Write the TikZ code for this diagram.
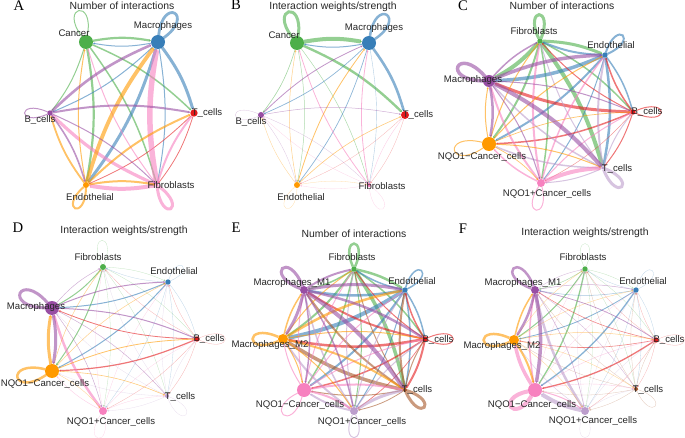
\documentclass[tikz,border=0pt]{standalone}
\usepackage{fontspec}
\setmainfont{Liberation Sans}
\newfontfamily\panelfont{Liberation Serif}
\definecolor{netgreen}{RGB}{77, 175, 74}
\definecolor{netblue}{RGB}{55, 126, 184}
\definecolor{netred}{RGB}{228, 26, 28}
\definecolor{netpink}{RGB}{247, 129, 191}
\definecolor{netorange}{RGB}{255, 153, 0}
\definecolor{netpurple}{RGB}{152, 78, 163}
\definecolor{netlilac}{RGB}{188, 157, 204}
\definecolor{netbrown}{RGB}{166, 86, 40}
\usetikzlibrary{arrows.meta}
\tikzset{
  dot/.style={circle, inner sep=0pt, outer sep=0pt},
  lab/.style={inner sep=0pt, font=\fontsize{7.2}{9}\selectfont, text=black!85},
  ttl/.style={inner sep=0pt, font=\fontsize{7.8}{9}\selectfont, text=black!85},
  panel/.style={inner sep=0pt, font=\panelfont\fontsize{11}{12}\selectfont},
  lnk/.style={bend left=10, -{Stealth[length=1.6pt,width=1.6pt]}}
}
% thin links are paler
\newcommand{\linksfrom}[3]{\foreach \dest/\lw in {#3}{\pgfmathsetmacro{\lnkop}{min(0.6,0.15+0.6*\lw)}
  \draw[lnk, opacity=\lnkop, draw=#1, line width=\lw*0.75pt] (#2) to (\dest);}}
% colour, node, direction, length and width of a self loop
\newcommand{\selfloop}[5]{{\pgfmathsetmacro{\outang}{#3+24}\pgfmathsetmacro{\inang}{#3-24}\pgfmathsetmacro{\loopdist}{#4*1.4*0.75}\pgfmathsetmacro{\lnkop}{min(0.6,0.15+0.6*#5)}
  \draw[opacity=\lnkop, draw=#1, line width=#5*0.75pt] (#2) to[out=\outang, in=\inang, distance=\loopdist pt] (#2);}}

\begin{document}
\begin{tikzpicture}[x=0.75pt, y=-0.75pt]
  \useasboundingbox (0,0) rectangle (685,438);

  % Panel A
  \node[panel] (aTag) at (19,6) {A};
  \node[ttl] (aTitle) at (122,6) {Number of interactions};
  \node[dot, fill=netgreen, minimum size=10.5pt] (aCan) at (86,42) {};
  \node[dot, fill=netblue, minimum size=10.5pt] (aMac) at (158,42) {};
  \node[dot, fill=netred, minimum size=5.5pt] (aT) at (194,113) {};
  \node[dot, fill=netpink, minimum size=2.5pt] (aFib) at (157,185) {};
  \node[dot, fill=netorange, minimum size=4.5pt] (aEnd) at (86,185) {};
  \node[dot, fill=netpurple, minimum size=4pt] (aB) at (50,113) {};
  \linksfrom{netgreen}{aCan}{aMac/2.2, aT/1.5, aFib/1.5, aEnd/2.2, aB/1}
  \linksfrom{netblue}{aMac}{aCan/1, aT/3, aFib/1, aEnd/3, aB/1}
  \linksfrom{netred}{aT}{aEnd/0.8, aFib/0.8}
  \linksfrom{netpink}{aFib}{aMac/5.5, aT/2, aCan/1, aB/3.2, aEnd/4}
  \linksfrom{netorange}{aEnd}{aMac/3.8, aCan/1, aT/2, aB/1.8, aFib/2}
  \linksfrom{netpurple}{aB}{aMac/2.6, aT/2, aFib/1, aEnd/1.6}
  \selfloop{netgreen}{aCan}{103}{27}{1}
  \selfloop{netblue}{aMac}{60}{28}{2.8}
  \selfloop{netpurple}{aB}{180}{24}{1}
  \selfloop{netorange}{aEnd}{245}{24}{2}
  \selfloop{netpink}{aFib}{300}{27}{3}
  \node[lab] (aCanL) at (74,33) {Cancer};
  \node[lab] (aMacL) at (163,26) {Macrophages};
  \node[lab] (aTL) at (207,113) {T\_cells};
  \node[lab] (aBL) at (40,120) {B\_cells};
  \node[lab] (aEndL) at (90,197) {Endothelial};
  \node[lab] (aFibL) at (171,185) {Fibroblasts};

  % Panel B
  \node[panel] (bTag) at (236,5) {B};
  \node[ttl] (bTitle) at (333,7) {Interaction weights/strength};
  \node[dot, fill=netgreen, minimum size=10.5pt] (bCan) at (297,43) {};
  \node[dot, fill=netblue, minimum size=10.5pt] (bMac) at (369,43) {};
  \node[dot, fill=netred, minimum size=6pt] (bT) at (405,115) {};
  \node[dot, fill=netpink, minimum size=3pt] (bFib) at (369,185) {};
  \node[dot, fill=netorange, minimum size=4.5pt] (bEnd) at (297,185) {};
  \node[dot, fill=netpurple, minimum size=4.5pt] (bB) at (261,115) {};
  \linksfrom{netgreen}{bCan}{bMac/4, bT/2.4, bFib/0.5, bEnd/0.5, bB/0.6}
  \linksfrom{netblue}{bMac}{bCan/1, bT/2.6, bFib/0.4, bEnd/0.7, bB/0.7}
  \linksfrom{netred}{bT}{bEnd/0.3, bFib/0.3}
  \linksfrom{netpink}{bFib}{bMac/0.8, bT/0.4, bCan/0.8, bB/0.3, bEnd/0.3}
  \linksfrom{netorange}{bEnd}{bMac/0.8, bCan/0.5, bT/0.6, bB/0.4, bFib/0.3}
  \linksfrom{netpurple}{bB}{bMac/0.8, bT/0.5, bFib/0.3, bEnd/0.3}
  \selfloop{netgreen}{bCan}{105}{27}{3}
  \selfloop{netblue}{bMac}{58}{28}{2.5}
  \selfloop{netpurple}{bB}{180}{24}{0.3}
  \selfloop{netorange}{bEnd}{245}{24}{0.3}
  \selfloop{netpink}{bFib}{300}{27}{0.3}
  \node[lab] (bCanL) at (284,35) {Cancer};
  \node[lab] (bMacL) at (374,28) {Macrophages};
  \node[lab] (bTL) at (418,115) {T\_cells};
  \node[lab] (bBL) at (251,122) {B\_cells};
  \node[lab] (bEndL) at (301,197) {Endothelial};
  \node[lab] (bFibL) at (382,186) {Fibroblasts};

  % Panel C
  \node[panel] (cTag) at (463,6) {C};
  \node[ttl] (cTitle) at (562,6) {Number of interactions};
  \node[dot, fill=netgreen, minimum size=4pt] (cFib) at (540,41) {};
  \node[dot, fill=netblue, minimum size=4pt] (cEnd) at (605,55) {};
  \node[dot, fill=netred, minimum size=4pt] (cB) at (633,112) {};
  \node[dot, fill=netlilac, minimum size=2.5pt] (cT) at (603,168) {};
  \node[dot, fill=netpink, minimum size=6pt] (cPos) at (541,183) {};
  \node[dot, fill=netorange, minimum size=10.5pt] (cNeg) at (489,144) {};
  \node[dot, fill=netpurple, minimum size=9pt] (cMac) at (489,81) {};
  \linksfrom{netgreen}{cFib}{cEnd/3, cB/1.5, cT/4, cPos/1.5, cNeg/2, cMac/4}
  \linksfrom{netblue}{cEnd}{cFib/2, cB/1.5, cT/2.5, cPos/1, cNeg/2, cMac/3.5}
  \linksfrom{netred}{cB}{cFib/1, cEnd/1.5, cT/1, cPos/0.5, cNeg/1.5, cMac/3}
  \linksfrom{netlilac}{cT}{cFib/1, cEnd/2, cB/1, cPos/1, cNeg/1.5, cMac/1.5}
  \linksfrom{netpink}{cPos}{cFib/2, cEnd/1.5, cB/1, cT/4, cNeg/1.5, cMac/2}
  \linksfrom{netorange}{cNeg}{cFib/1, cEnd/1, cB/0.7, cT/1, cPos/0.7, cMac/1}
  \linksfrom{netpurple}{cMac}{cFib/1.5, cEnd/3.5, cB/1, cT/4, cPos/1, cNeg/2.5}
  \selfloop{netgreen}{cFib}{92}{25}{3}
  \selfloop{netblue}{cEnd}{48}{25}{2}
  \selfloop{netred}{cB}{0}{27}{1}
  \selfloop{netlilac}{cT}{-45}{26}{3}
  \selfloop{netpink}{cPos}{260}{25}{1}
  \selfloop{netorange}{cNeg}{190}{30}{1}
  \selfloop{netpurple}{cMac}{155}{30}{3.5}
  \node[lab] (cFibL) at (534,31) {Fibroblasts};
  \node[lab] (cEndL) at (611,45) {Endothelial};
  \node[lab] (cMacL) at (473,80) {Macrophages};
  \node[lab] (cBL) at (647,112) {B\_cells};
  \node[lab] (cTL) at (617,169) {T\_cells};
  \node[lab] (cNegL) at (482,157) {NQO1−Cancer\_cells};
  \node[lab] (cPosL) at (547,194) {NQO1+Cancer\_cells};

  % Panel D
  \node[panel] (dTag) at (18,228) {D};
  \node[ttl] (dTitle) at (124,231) {Interaction weights/strength};
  \node[dot, fill=netgreen, minimum size=4.5pt] (dFib) at (103,267) {};
  \node[dot, fill=netblue, minimum size=4pt] (dEnd) at (168,282) {};
  \node[dot, fill=netred, minimum size=4pt] (dB) at (197,339) {};
  \node[dot, fill=netlilac, minimum size=3pt] (dT) at (167,396) {};
  \node[dot, fill=netpink, minimum size=6pt] (dPos) at (103,411) {};
  \node[dot, fill=netorange, minimum size=10.5pt] (dNeg) at (52,371) {};
  \node[dot, fill=netpurple, minimum size=10.5pt] (dMac) at (52,308) {};
  \linksfrom{netgreen}{dFib}{dEnd/0.3, dB/0.3, dT/0.3, dPos/0.3, dNeg/1, dMac/1}
  \linksfrom{netblue}{dEnd}{dFib/0.3, dB/0.3, dT/0.3, dPos/0.3, dNeg/1, dMac/1}
  \linksfrom{netred}{dB}{dFib/0.3, dEnd/0.3, dT/0.3, dPos/0.3, dNeg/1.2, dMac/0.8}
  \linksfrom{netlilac}{dT}{dFib/0.3, dEnd/0.3, dB/0.3, dPos/0.3, dNeg/0.3, dMac/0.3}
  \linksfrom{netpink}{dPos}{dFib/0.3, dEnd/0.3, dB/0.3, dT/0.3, dNeg/0.4, dMac/2.5}
  \linksfrom{netorange}{dNeg}{dFib/0.5, dEnd/0.5, dB/0.8, dT/0.6, dPos/0.4, dMac/3}
  \linksfrom{netpurple}{dMac}{dFib/0.5, dEnd/1, dB/1, dT/0.5, dPos/0.5, dNeg/3}
  \selfloop{netgreen}{dFib}{92}{25}{0.3}
  \selfloop{netblue}{dEnd}{48}{20}{0.3}
  \selfloop{netred}{dB}{0}{27}{0.3}
  \selfloop{netlilac}{dT}{-45}{26}{0.3}
  \selfloop{netpink}{dPos}{260}{25}{0.3}
  \selfloop{netorange}{dNeg}{190}{30}{2.5}
  \selfloop{netpurple}{dMac}{155}{30}{3}
  \node[lab] (dFibL) at (98,257) {Fibroblasts};
  \node[lab] (dEndL) at (174,271) {Endothelial};
  \node[lab] (dMacL) at (36,307) {Macrophages};
  \node[lab] (dBL) at (209,339) {B\_cells};
  \node[lab] (dTL) at (180,397) {T\_cells};
  \node[lab] (dNegL) at (45,384) {NQO1−Cancer\_cells};
  \node[lab] (dPosL) at (111,422) {NQO1+Cancer\_cells};

  % Panel E
  \node[panel] (eTag) at (236,228) {E};
  \node[ttl] (eTitle) at (354,234) {Number of interactions};
  \node[dot, fill=netgreen, minimum size=4pt] (eFib) at (354,269) {};
  \node[dot, fill=netblue, minimum size=4pt] (eEnd) at (405,290) {};
  \node[dot, fill=netred, minimum size=4pt] (eB) at (425,339) {};
  \node[dot, fill=netbrown, minimum size=3pt] (eT) at (405,390) {};
  \node[dot, fill=netlilac, minimum size=6pt] (ePos) at (354,411) {};
  \node[dot, fill=netpink, minimum size=10.5pt] (eNeg) at (304,390) {};
  \node[dot, fill=netorange, minimum size=7.5pt] (eTwo) at (283,339) {};
  \node[dot, fill=netpurple, minimum size=6pt] (eOne) at (304,290) {};
  \linksfrom{netgreen}{eFib}{eEnd/2.5, eB/1.5, eT/3.5, ePos/1, eNeg/1.5, eTwo/2, eOne/1.5}
  \linksfrom{netblue}{eEnd}{eFib/1.5, eB/1.5, eT/1.5, ePos/1, eNeg/2, eTwo/4, eOne/2.5}
  \linksfrom{netred}{eB}{eFib/1, eEnd/1.5, eT/2, ePos/0.7, eNeg/1.5, eTwo/2.5, eOne/2}
  \linksfrom{netbrown}{eT}{eFib/1, eEnd/2, eB/1, ePos/0.8, eNeg/1, eTwo/3.5, eOne/2}
  \linksfrom{netlilac}{ePos}{eFib/1, eEnd/1, eB/1, eT/3, eNeg/2, eTwo/2, eOne/1.5}
  \linksfrom{netpink}{eNeg}{eFib/1, eEnd/1, eB/1, eT/2, ePos/2, eTwo/1, eOne/1}
  \linksfrom{netorange}{eTwo}{eFib/1, eEnd/2.5, eB/1, eT/2, ePos/1, eNeg/1, eOne/1.5}
  \linksfrom{netpurple}{eOne}{eFib/2, eEnd/3, eB/2.5, eT/4, ePos/1.5, eNeg/1.5, eTwo/3}
  \selfloop{netgreen}{eFib}{90}{24}{2.5}
  \selfloop{netblue}{eEnd}{50}{24}{1.5}
  \selfloop{netred}{eB}{0}{27}{1}
  \selfloop{netbrown}{eT}{-42}{25}{3}
  \selfloop{netlilac}{ePos}{270}{24}{1}
  \selfloop{netpink}{eNeg}{230}{27}{1}
  \selfloop{netorange}{eTwo}{180}{27}{2.5}
  \selfloop{netpurple}{eOne}{135}{28}{3}
  \node[lab] (eFibL) at (352,257) {Fibroblasts};
  \node[lab] (eEndL) at (412,281) {Endothelial};
  \node[lab] (eOneL) at (292,283) {Macrophages\_M1};
  \node[lab] (eBL) at (438,340) {B\_cells};
  \node[lab] (eTwoL) at (270,345) {Macrophages\_M2};
  \node[lab] (eTL) at (417,390) {T\_cells};
  \node[lab] (eNegL) at (300,405) {NQO1−Cancer\_cells};
  \node[lab] (ePosL) at (362,422) {NQO1+Cancer\_cells};

  % Panel F
  \node[panel] (fTag) at (463,229) {F};
  \node[ttl] (fTitle) at (585,233) {Interaction weights/strength};
  \node[dot, fill=netgreen, minimum size=4pt] (fFib) at (585,269) {};
  \node[dot, fill=netblue, minimum size=4pt] (fEnd) at (636,290) {};
  \node[dot, fill=netred, minimum size=4pt] (fB) at (656,340) {};
  \node[dot, fill=netbrown, minimum size=3pt] (fT) at (636,389) {};
  \node[dot, fill=netlilac, minimum size=6pt] (fPos) at (585,411) {};
  \node[dot, fill=netpink, minimum size=10.5pt] (fNeg) at (535,390) {};
  \node[dot, fill=netorange, minimum size=7.5pt] (fTwo) at (514,340) {};
  \node[dot, fill=netpurple, minimum size=6pt] (fOne) at (535,290) {};
  \linksfrom{netgreen}{fFib}{fEnd/0.3, fB/0.3, fT/0.3, fPos/0.3, fNeg/1.3, fTwo/1, fOne/0.5}
  \linksfrom{netblue}{fEnd}{fFib/0.3, fB/0.3, fT/0.3, fPos/0.3, fNeg/1.3, fTwo/0.8, fOne/0.5}
  \linksfrom{netred}{fB}{fFib/0.3, fEnd/0.3, fT/0.3, fPos/0.3, fNeg/1.3, fTwo/0.6, fOne/0.6}
  \linksfrom{netbrown}{fT}{fFib/0.3, fEnd/0.3, fB/0.3, fPos/0.3, fNeg/0.3, fTwo/0.3, fOne/0.3}
  \linksfrom{netlilac}{fPos}{fFib/0.3, fEnd/0.3, fB/0.3, fT/0.3, fNeg/4, fTwo/0.5, fOne/2.5}
  \linksfrom{netpink}{fNeg}{fFib/0.3, fEnd/0.3, fB/0.4, fT/0.4, fPos/1, fTwo/3.5, fOne/1.5}
  \linksfrom{netorange}{fTwo}{fFib/0.4, fEnd/0.4, fB/0.5, fT/0.4, fPos/0.4, fNeg/2, fOne/1.5}
  \linksfrom{netpurple}{fOne}{fFib/0.4, fEnd/0.5, fB/0.7, fT/0.4, fPos/0.5, fNeg/3.5, fTwo/2.5}
  \selfloop{netgreen}{fFib}{90}{24}{0.3}
  \selfloop{netblue}{fEnd}{50}{24}{0.3}
  \selfloop{netred}{fB}{0}{27}{0.3}
  \selfloop{netbrown}{fT}{-42}{25}{0.3}
  \selfloop{netlilac}{fPos}{270}{24}{0.3}
  \selfloop{netpink}{fNeg}{215}{24}{4}
  \selfloop{netorange}{fTwo}{180}{27}{2.5}
  \selfloop{netpurple}{fOne}{135}{28}{2.5}
  \node[lab] (fFibL) at (583,257) {Fibroblasts};
  \node[lab] (fEndL) at (643,281) {Endothelial};
  \node[lab] (fOneL) at (523,283) {Macrophages\_M1};
  \node[lab] (fBL) at (669,340) {B\_cells};
  \node[lab] (fTwoL) at (502,346) {Macrophages\_M2};
  \node[lab] (fTL) at (648,390) {T\_cells};
  \node[lab] (fNegL) at (532,405) {NQO1−Cancer\_cells};
  \node[lab] (fPosL) at (593,421) {NQO1+Cancer\_cells};
\end{tikzpicture}
\end{document}
